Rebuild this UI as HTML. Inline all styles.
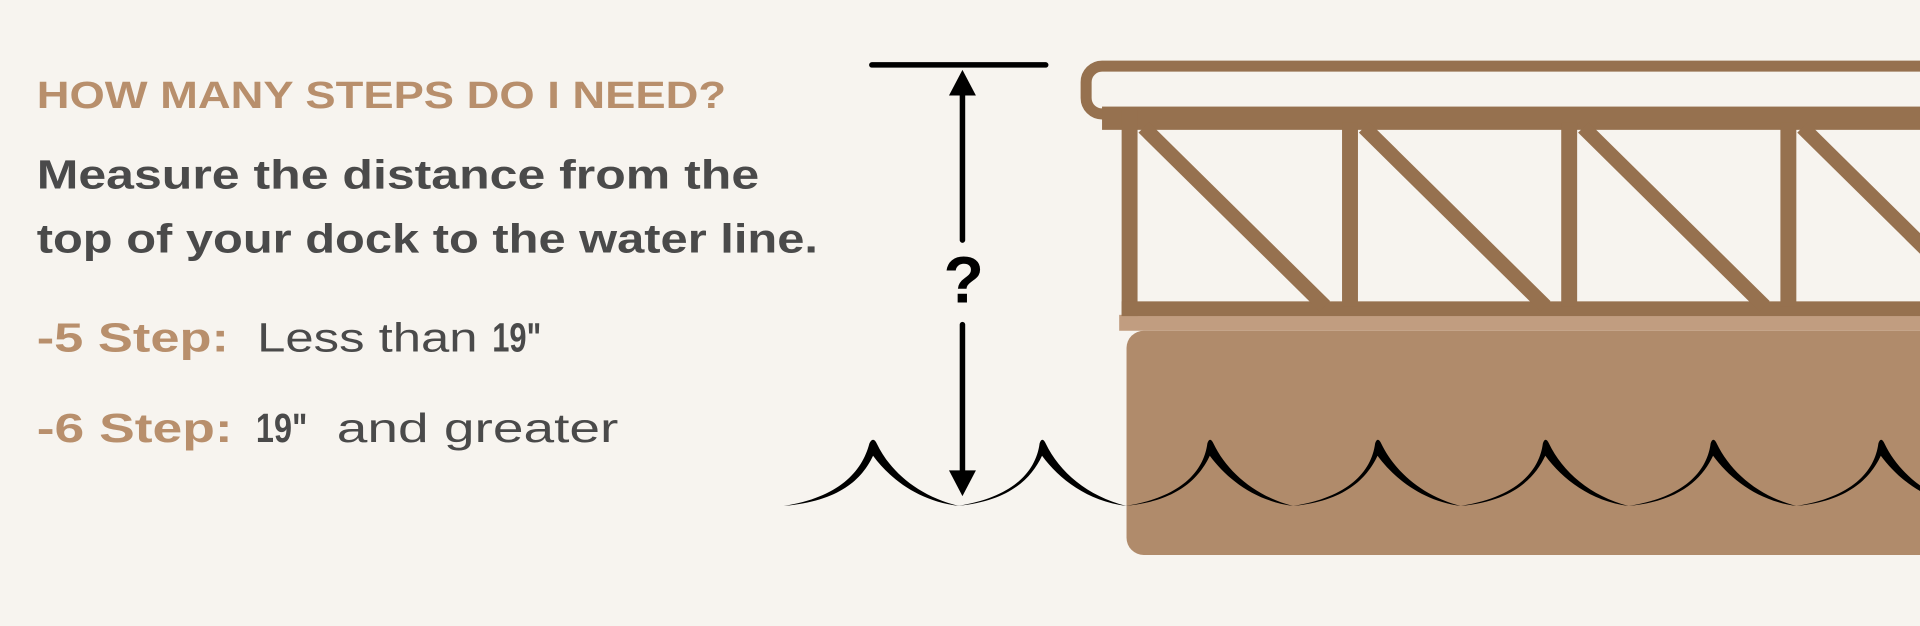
<!DOCTYPE html>
<html><head><meta charset="utf-8"><style>
html,body{margin:0;padding:0;background:#f7f4ef;}
svg{display:block;}
text{font-family:"Liberation Sans",sans-serif;}
</style></head><body>
<svg width="1920" height="626" viewBox="0 0 1568 511" preserveAspectRatio="none" xmlns="http://www.w3.org/2000/svg">
<rect width="1568" height="511" fill="#f7f4ef"/>
<!-- pontoon -->
<rect x="920" y="270" width="700" height="183" rx="14" fill="#b08b6b"/>
<rect x="914" y="257" width="700" height="13" fill="#c19d80"/>
<!-- frame -->
<g fill="#96714f">
<rect x="887" y="54" width="720" height="39" rx="13" fill="#f7f4ef" stroke="#96714f" stroke-width="9"/>
<rect x="900" y="87" width="700" height="19"/>
<rect x="916" y="90" width="13" height="168"/>
<rect x="916" y="246" width="700" height="12"/>
<rect x="1096" y="100" width="13" height="150"/>
<rect x="1275" y="100" width="13" height="150"/>
<rect x="1454" y="100" width="13" height="150"/>
</g>
<g stroke="#96714f" stroke-width="12">
<line x1="934" y1="104" x2="1082" y2="250"/>
<line x1="1114" y1="104" x2="1262" y2="250"/>
<line x1="1293" y1="104" x2="1441" y2="250"/>
<line x1="1472" y1="104" x2="1620" y2="250"/>
</g>
<!-- measurement -->
<line x1="712" y1="53" x2="854" y2="53" stroke="#000" stroke-width="4.5" stroke-linecap="round"/>
<line x1="786" y1="72" x2="786" y2="196" stroke="#000" stroke-width="4.5" stroke-linecap="round"/>
<polygon points="786,57 775,78 797,78" fill="#000"/>
<line x1="786" y1="265" x2="786" y2="390" stroke="#000" stroke-width="4.5" stroke-linecap="round"/>
<polygon points="786,405 775,384 797,384" fill="#000"/>
<text x="787" y="247" text-anchor="middle" font-size="54" font-weight="bold" fill="#000">?</text>
<!-- waves -->
<g fill="#000">
<path transform="translate(640,413)" d="M0,0 C45,-7 64,-28 70,-51 Q73,-57 76,-51 C87,-28 110,-8 143,0 C110,-4 87,-22 73,-41 C64,-22 46,-4 0,0 Z"/>
<path transform="translate(782,413)" d="M0,0 C45,-7 64,-28 67,-51 Q69,-57 72,-51 C83,-28 106,-8 138,0 C106,-4 83,-22 69,-41 C60,-22 42,-4 0,0 Z"/>
<path transform="translate(919,413)" d="M0,0 C45,-7 64,-28 67,-51 Q69,-57 72,-51 C83,-28 106,-8 137,0 C106,-4 83,-22 69,-41 C60,-22 42,-4 0,0 Z"/>
<path transform="translate(1056,413)" d="M0,0 C45,-7 64,-28 67,-51 Q69,-57 72,-51 C83,-28 106,-8 137,0 C106,-4 83,-22 69,-41 C60,-22 42,-4 0,0 Z"/>
<path transform="translate(1193,413)" d="M0,0 C45,-7 64,-28 67,-51 Q69,-57 72,-51 C83,-28 106,-8 137,0 C106,-4 83,-22 69,-41 C60,-22 42,-4 0,0 Z"/>
<path transform="translate(1330,413)" d="M0,0 C45,-7 64,-28 67,-51 Q69,-57 72,-51 C83,-28 106,-8 137,0 C106,-4 83,-22 69,-41 C60,-22 42,-4 0,0 Z"/>
<path transform="translate(1467,413)" d="M0,0 C45,-7 64,-28 67,-51 Q69,-57 72,-51 C83,-28 106,-8 137,0 C106,-4 83,-22 69,-41 C60,-22 42,-4 0,0 Z"/>
</g>
<!-- text -->
<text x="30" y="88" font-size="31" font-weight="bold" fill="#b88f6c" textLength="563" lengthAdjust="spacingAndGlyphs">HOW MANY STEPS DO I NEED?</text>
<text x="30" y="154" font-size="33" font-weight="bold" fill="#4a4a4a" textLength="590" lengthAdjust="spacingAndGlyphs">Measure the distance from the</text>
<text x="30" y="206" font-size="33" font-weight="bold" fill="#4a4a4a" textLength="638" lengthAdjust="spacingAndGlyphs">top of your dock to the water line.</text>
<text x="30" y="287" font-size="33" font-weight="bold" fill="#b88f6c" textLength="157" lengthAdjust="spacingAndGlyphs">-5 Step:</text>
<text x="210" y="287" font-size="33" fill="#4a4a4a" textLength="180" lengthAdjust="spacingAndGlyphs">Less than</text>
<text x="402" y="287" font-size="33" font-weight="bold" fill="#4a4a4a" textLength="40" lengthAdjust="spacingAndGlyphs">19"</text>
<text x="30" y="361" font-size="33" font-weight="bold" fill="#b88f6c" textLength="160" lengthAdjust="spacingAndGlyphs">-6 Step:</text>
<text x="209" y="361" font-size="33" font-weight="bold" fill="#4a4a4a" textLength="42" lengthAdjust="spacingAndGlyphs">19"</text>
<text x="275" y="361" font-size="33" fill="#4a4a4a" textLength="230" lengthAdjust="spacingAndGlyphs">and greater</text>
</svg>
</body></html>
